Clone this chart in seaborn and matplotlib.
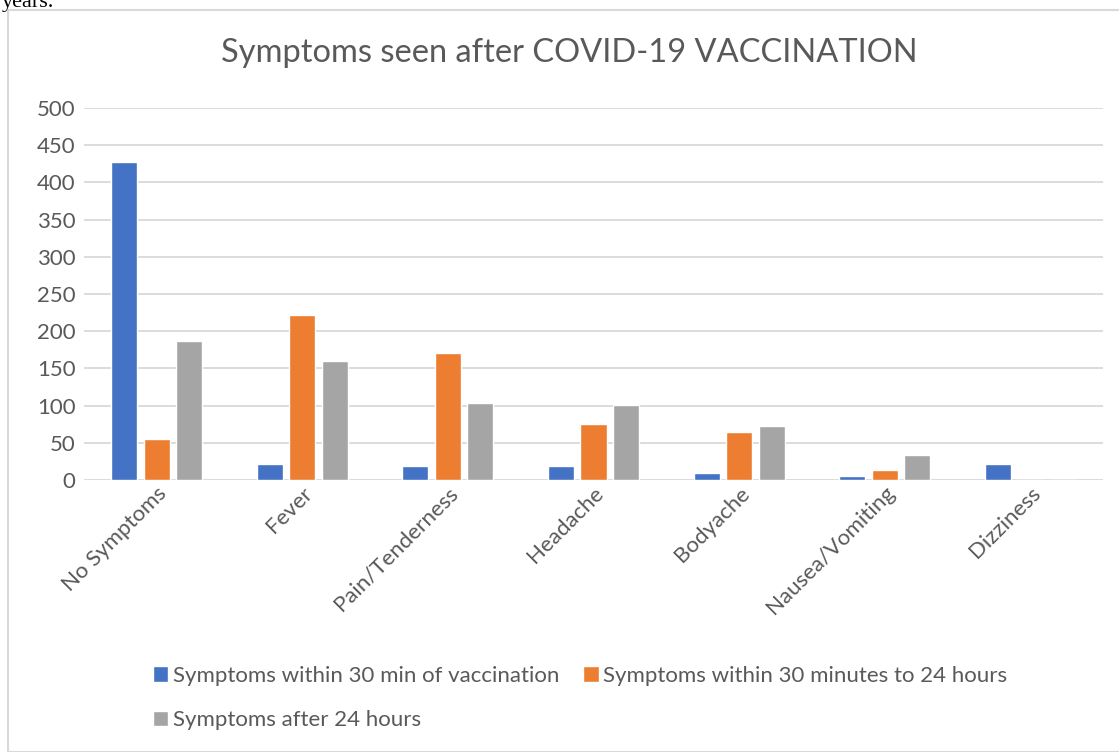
import pandas as pd
import seaborn as sns
import matplotlib.pyplot as plt
from matplotlib.patches import Rectangle

# values
symptoms = ['No Symptoms', 'Fever', 'Pain/Tenderness', 'Headache',
            'Bodyache', 'Nausea/Vomiting', 'Dizziness']
within_30min = [428, 21, 19, 19, 9, 6, 22]
min30_to_24h = [55, 222, 171, 75, 65, 14, 0]
after_24h = [187, 160, 103, 101, 72, 34, 0]
series_names = ['Symptoms within 30 min of vaccination',
                'Symptoms within 30 minutes to 24 hours',
                'Symptoms after 24 hours']
colors = ['#4472C4', '#ED7D31', '#A5A5A5']

df = pd.DataFrame({'Symptom': symptoms * 3,
                   'Series': [s for s in series_names for _ in symptoms],
                   'Count': within_30min + min30_to_24h + after_24h})

sns.set_style('white')
plt.rcParams['font.family'] = ['Lato', 'DejaVu Sans']
txt = '#595959'
grid = '#D9D9D9'

fig = plt.figure(figsize=(11.19, 7.52), dpi=100)
W, H = 1119, 752
ax = fig.add_axes([84 / W, 1 - 480 / H, (1103 - 84) / W, 372 / H])

sns.barplot(data=df, x='Symptom', y='Count', hue='Series', order=symptoms,
            hue_order=series_names, palette=colors, width=0.67, gap=0.2,
            saturation=1, ax=ax, legend=True)

ax.set_ylim(0, 500)
ax.set_yticks(range(0, 501, 50))
ax.yaxis.grid(True, color=grid, lw=1.3)
ax.set_axisbelow(True)
for s in ax.spines.values():
    s.set_visible(False)
ax.tick_params(length=0, colors=txt, labelsize=16)
ax.tick_params(axis='y', pad=6)
ax.tick_params(axis='x', pad=2)
ax.set_xlabel('')
ax.set_ylabel('')
for lab in ax.get_xticklabels():
    lab.set_rotation(45)
    lab.set_ha('right')
    lab.set_rotation_mode('anchor')

# legend filled row by row, like the original
handles, labels = ax.get_legend_handles_labels()
ax.get_legend().remove()
order = [0, 2, 1]
fig.legend([handles[i] for i in order], [labels[i] for i in order],
           loc='center', bbox_to_anchor=(580 / W, 1 - 698 / H),
           ncol=2, frameon=False, fontsize=16, labelcolor=txt,
           handlelength=0.7, handleheight=0.7, handletextpad=0.2,
           columnspacing=1.1, labelspacing=1.1)

fig.suptitle('Symptoms seen after COVID-19 VACCINATION', x=569 / W,
             y=1 - 53 / H, va='center', fontsize=23.5, color=txt)

# outer chart frame and the clipped text above it
fig.patches.append(Rectangle((8 / W, 0), 1.2, 1 - 10 / H, transform=fig.transFigure,
                             fill=False, edgecolor=grid, lw=1.5))
fig.text(2 / W, 1 - 7 / H, 'years.', va='baseline', fontsize=16,
         family=['Liberation Serif'], color='black')

fig.savefig('out.png', dpi=100)
